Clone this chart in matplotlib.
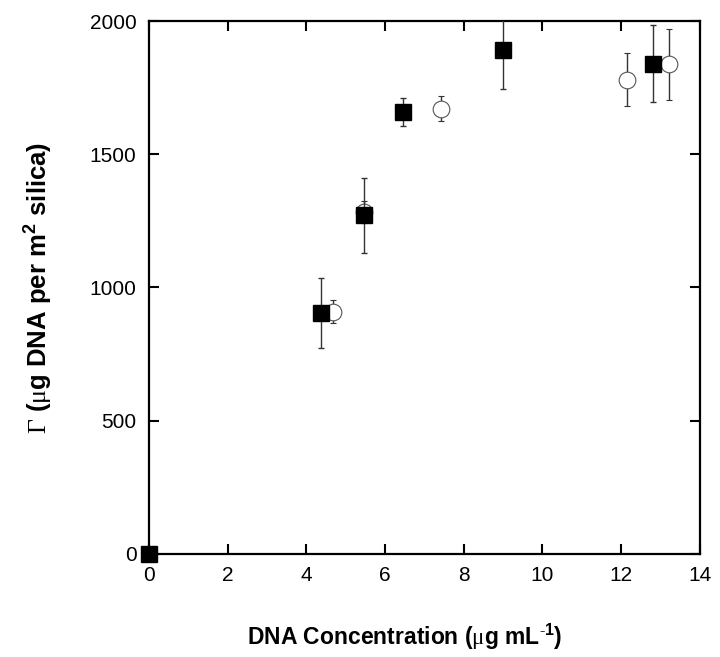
import matplotlib
matplotlib.use("Agg")
import matplotlib.pyplot as plt

plt.rcParams['font.family'] = ['Liberation Sans', 'DejaVu Sans']
plt.rcParams['mathtext.fontset'] = 'custom'
plt.rcParams['mathtext.rm'] = 'Liberation Serif'
plt.rcParams['mathtext.bf'] = 'Liberation Sans:bold'

# filled squares
sq_x = [0.0, 4.38, 5.47, 6.46, 9.0, 12.81]
sq_y = [0, 904, 1271, 1658, 1892, 1840]
sq_err = [0, 130, 140, 52, 148, 145]

# open circles
ci_x = [4.68, 5.47, 7.42, 12.14, 13.21]
ci_y = [908, 1283, 1671, 1780, 1837]
ci_err = [43, 40, 48, 100, 133]

fig = plt.figure(figsize=(7.2, 6.57), dpi=100)
ax = fig.add_axes([0.207, 0.157, 0.765, 0.811])

ax.errorbar(ci_x, ci_y, yerr=ci_err, fmt='o', ms=12, mfc='white', mec='#555555',
            mew=0.8, ecolor='#333333', elinewidth=1.0, capsize=2.5, capthick=1.0, zorder=2)
sq = ax.errorbar(sq_x, sq_y, yerr=sq_err, fmt='s', ms=11.5, mfc='black', mec='black',
                 ecolor='#333333', elinewidth=1.0, capsize=2.5, capthick=1.0, zorder=3)
# let the marker at the origin show whole, bars stay clipped at the frame
sq[0].set_clip_on(False)

ax.set_xlim(0, 14)
ax.set_ylim(0, 2000)
ax.set_xticks(range(0, 15, 2))
ax.set_yticks(range(0, 2001, 500))
ax.tick_params(direction='in', length=7, width=1.5, labelsize=15, pad=9,
               top=True, right=True)
for s in ax.spines.values():
    s.set_linewidth(1.6)

ax.set_xlabel(r'DNA Concentration ($\mathrm{\mu}$g mL$^{\mathbf{\text{-}1}}$)', fontsize=16.5,
              fontweight='bold', labelpad=26)
ax.xaxis.label.set_x(0.465)
ax.set_ylabel(r'$\Gamma$ ($\mathrm{\mu}$g DNA per m$^{\mathbf{2}}$ silica)', fontsize=18.5,
              fontweight='bold', labelpad=26)

fig.savefig('out.png', dpi=100)
